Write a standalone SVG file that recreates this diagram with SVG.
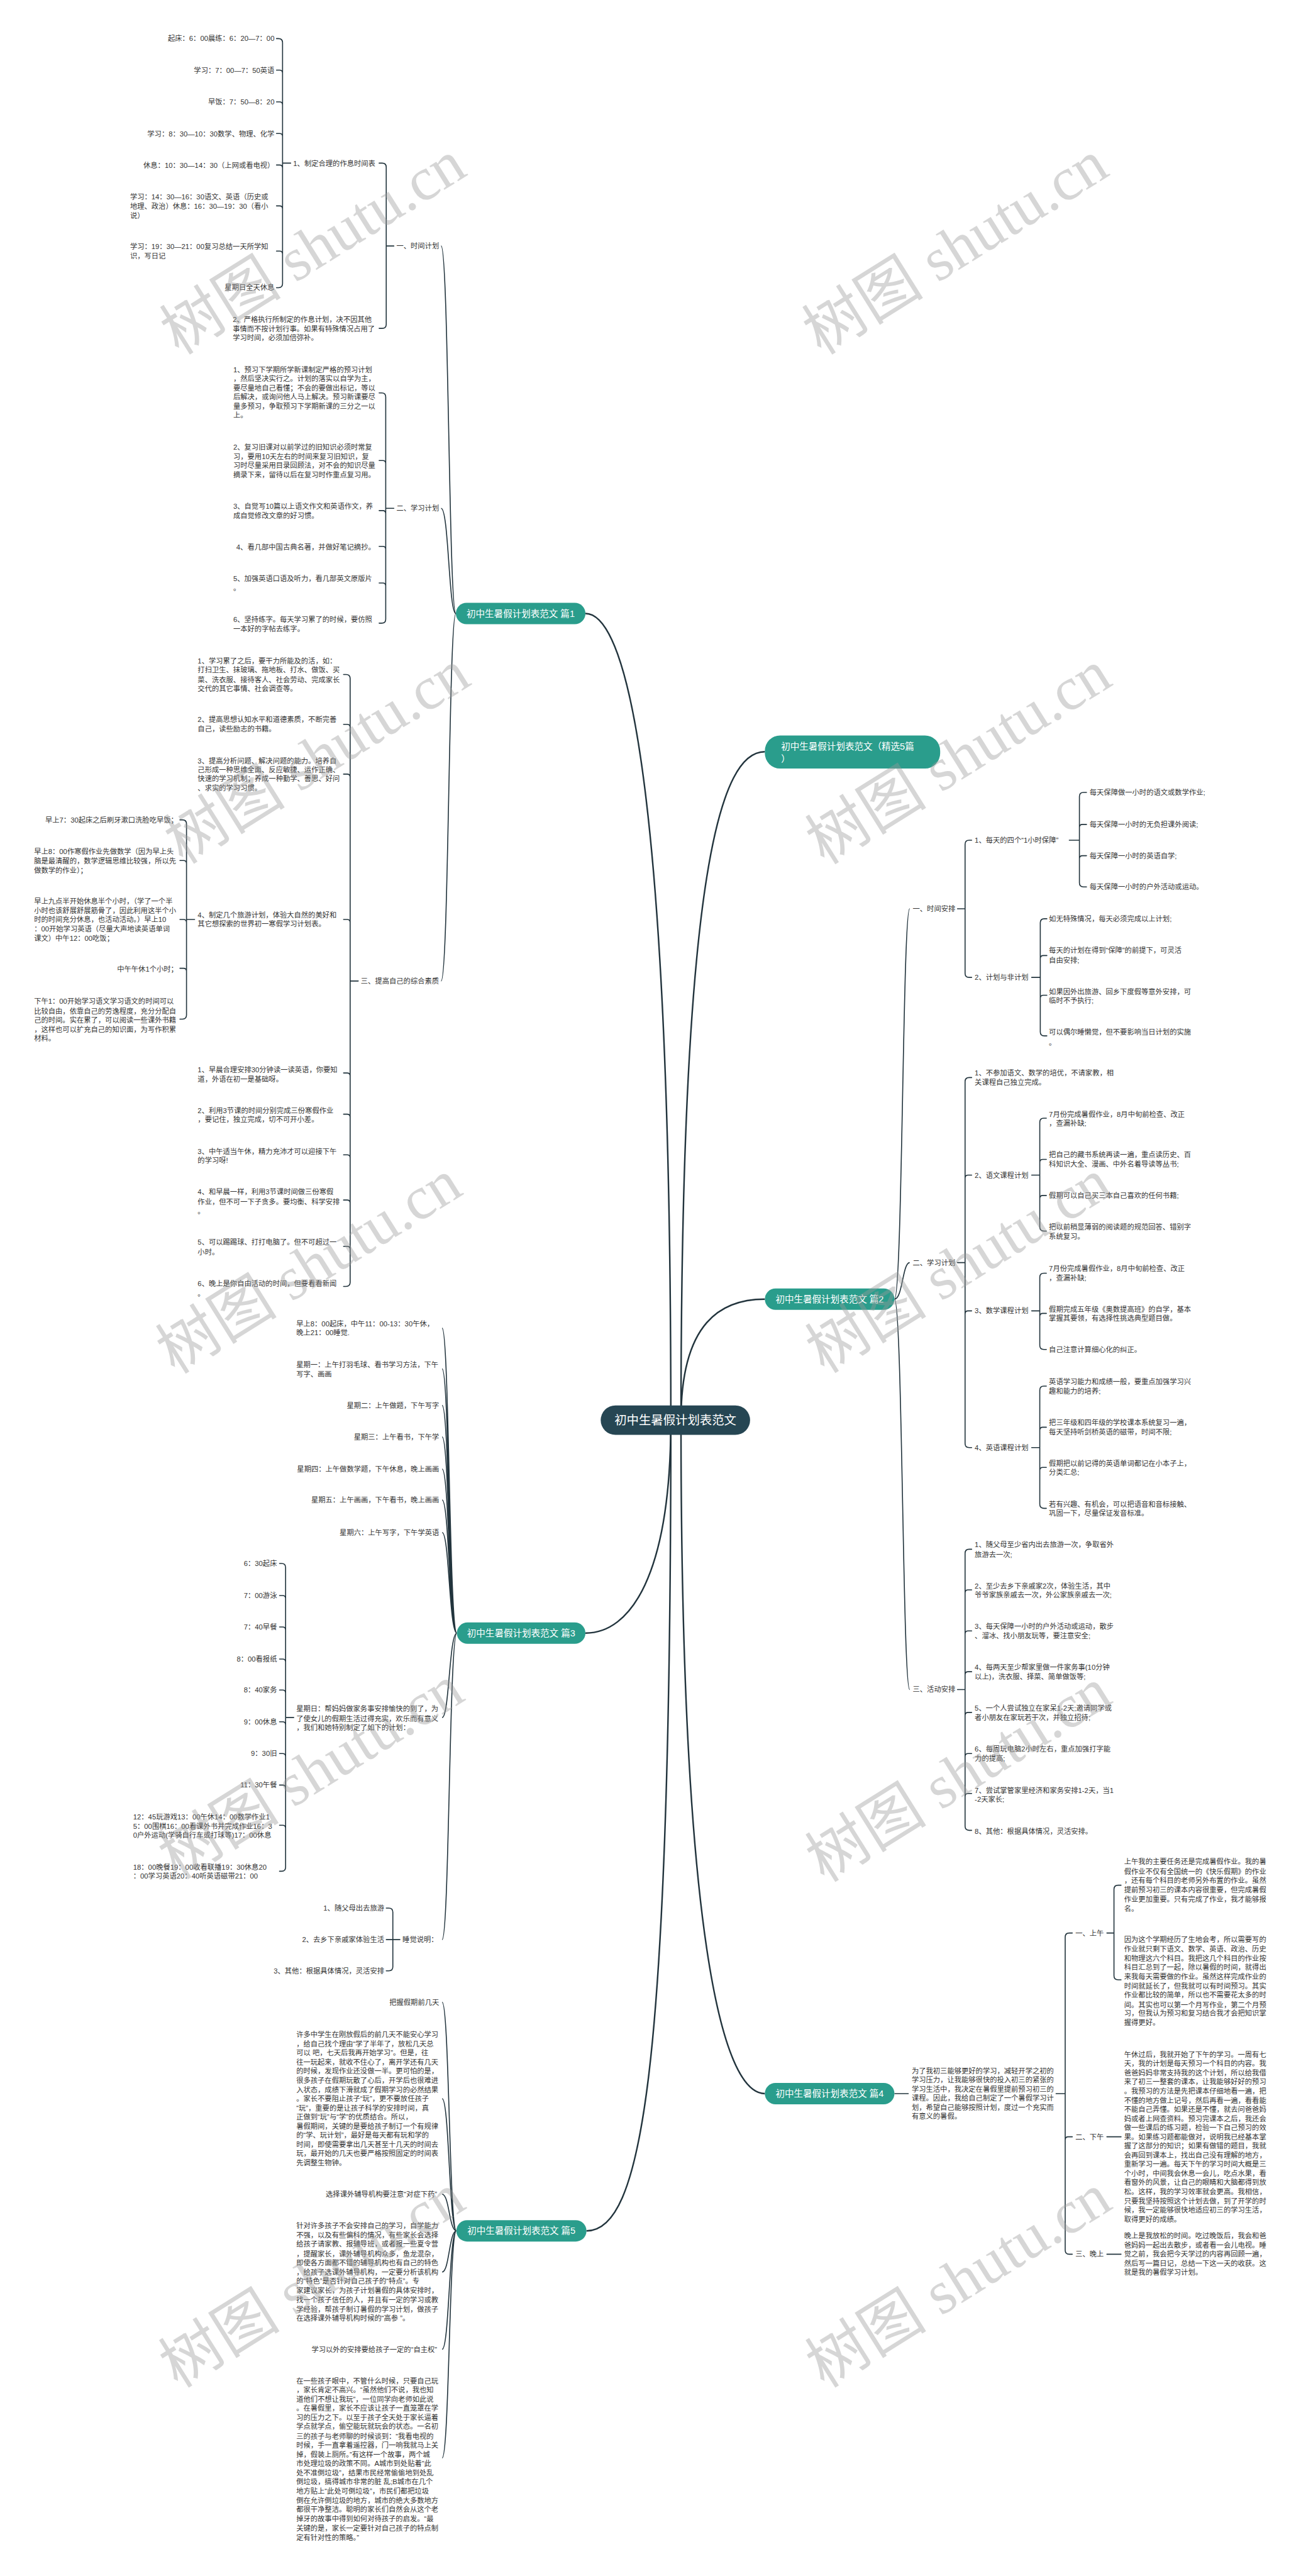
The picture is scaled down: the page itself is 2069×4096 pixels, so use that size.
<svg xmlns="http://www.w3.org/2000/svg" width="2069" height="4096" viewBox="0 0 2069 4096">
<style>
.t{font-family:"Liberation Sans","Noto Sans CJK SC",sans-serif;font-size:14px;fill:#333}
.e{text-anchor:end}
.n1{font-family:"Liberation Sans","Noto Sans CJK SC",sans-serif;font-size:18px;fill:#fff}
.n0{font-family:"Liberation Sans","Noto Sans CJK SC",sans-serif;font-size:24px;fill:#fff;text-anchor:middle}
.m{text-anchor:middle}
.b{fill:none;stroke:#22343d;stroke-width:2;stroke-linecap:round}
.c{fill:none;stroke:#22343d;stroke-width:2}
.c0{fill:none;stroke:#22343d;stroke-width:3}
.nd{fill:#2a9d8c}
.wm{font-family:"Liberation Serif","Noto Sans CJK SC",serif;font-size:120px;fill:#9a9a9a;opacity:0.4}
</style>
<rect width="2069" height="4096" fill="#fff"/>
<g transform="scale(0.8082)">
<g id="connectors">
<path class="c0" d="M1320 2794 C1320 1600 1240 1207 1152 1207"/>
<path class="c0" d="M1320 2794 C1320 3100 1240 3213 1152 3213"/>
<path class="c0" d="M1320 2794 C1320 4100 1260 4389 1154 4389"/>
<path class="c0" d="M1340 2794 C1340 1700 1420 1479 1505 1479"/>
<path class="c0" d="M1340 2794 C1340 2600 1420 2556 1505 2556"/>
<path class="c0" d="M1340 2794 C1340 3800 1420 4119 1505 4119"/>
<path class="c" d="M897 1207 C883 1207 883 484 868 484 M897 1207 C883 1207 883 1000 868 1000 M897 1207 C883 1207 883 1930 868 1930"/>
<path class="c" d="M899 3213 C884 3213 884 2613 870 2613 M899 3213 C884 3213 884 2693 870 2693 M899 3213 C884 3213 884 2765 870 2765 M899 3213 C884 3213 884 2827 870 2827 M899 3213 C884 3213 884 2890 870 2890 M899 3213 C884 3213 884 2951 870 2951 M899 3213 C884 3213 884 3015 870 3015 M899 3213 C884 3213 884 3379 870 3379 M899 3213 C884 3213 884 3816 870 3816"/>
<path class="c" d="M898 4389 C884 4389 884 3939 870 3939 M898 4389 C884 4389 884 4129 870 4129 M898 4389 C884 4389 884 4317 870 4317 M898 4389 C884 4389 884 4470 870 4470 M898 4389 C884 4389 884 4622 870 4622 M898 4389 C884 4389 884 4836 870 4836"/>
<path class="c" d="M1760 2556 C1776 2556 1776 1788 1790 1788 M1760 2556 C1776 2556 1776 2484 1790 2484 M1760 2556 C1776 2556 1776 3324 1790 3324 M1760 4119 L1788 4119"/>
<path class="b" d="M544 76 L548 76 Q556 76 556 84 L556 558 Q556 566 548 566 L544 566 M544 138 L550 138 Q556 138 556 144 M544 200.5 L550 200.5 Q556 200.5 556 206.5 M544 262.6 L550 262.6 Q556 262.6 556 268.6 M544 324.6 L550 324.6 Q556 324.6 556 330.6 M544 405 L550 405 Q556 405 556 411 M544 494 L550 494 Q556 494 556 500 M556 321 L572 321"/>
<path class="b" d="M746 321 L752 321 Q760 321 760 329 L760 638 Q760 646 752 646 L746 646 M760 484 L775 484"/>
<path class="b" d="M746 773 L751 773 Q759 773 759 781 L759 1218 Q759 1226 751 1226 L746 1226 M746 906 L753 906 Q759 906 759 912 M746 1004.5 L753 1004.5 Q759 1004.5 759 1010.5 M746 1075 L753 1075 Q759 1075 759 1081 M746 1147 L753 1147 Q759 1147 759 1153 M759 1000 L775 1000"/>
<path class="b" d="M676 1327 L681 1327 Q689 1327 689 1335 L689 2523 Q689 2531 681 2531 L676 2531 M676 1425 L683 1425 Q689 1425 689 1431 M676 1523 L683 1523 Q689 1523 689 1529 M676 1809 L683 1809 Q689 1809 689 1815 M676 2111 L683 2111 Q689 2111 689 2117 M676 2192 L683 2192 Q689 2192 689 2198 M676 2272 L683 2272 Q689 2272 689 2278 M676 2361 L683 2361 Q689 2361 689 2367 M676 2452 L683 2452 Q689 2452 689 2458 M689 1930 L705 1930"/>
<path class="b" d="M354 1613 L359 1613 Q367 1613 367 1621 L367 1997 Q367 2005 359 2005 L354 2005 M354 1693 L361 1693 Q367 1693 367 1699 M354 1809 L361 1809 Q367 1809 367 1815 M354 1905 L361 1905 Q367 1905 367 1911 M367 1809 L383 1809"/>
<path class="b" d="M550 3076 L554 3076 Q562 3076 562 3084 L562 3673.5 Q562 3681.5 554 3681.5 L550 3681.5 M550 3139 L556 3139 Q562 3139 562 3145 M550 3201 L556 3201 Q562 3201 562 3207 M550 3264 L556 3264 Q562 3264 562 3270 M550 3325 L556 3325 Q562 3325 562 3331 M550 3387.5 L556 3387.5 Q562 3387.5 562 3393.5 M550 3450 L556 3450 Q562 3450 562 3456 M550 3512 L556 3512 Q562 3512 562 3518 M550 3591 L556 3591 Q562 3591 562 3597 M562 3379 L578 3379"/>
<path class="b" d="M760 3754 L765 3754 Q773 3754 773 3762 L773 3869.5 Q773 3877.5 765 3877.5 L760 3877.5 M760 3816 L787 3816"/>
<path class="b" d="M1912 1653 L1907 1653 Q1899 1653 1899 1661 L1899 1915 Q1899 1923 1907 1923 L1912 1923 M1884 1788 L1899 1788"/>
<path class="b" d="M2138 1559 L2132 1559 Q2124 1559 2124 1567 L2124 1737 Q2124 1745 2132 1745 L2138 1745 M2138 1622 L2130 1622 Q2124 1622 2124 1628 M2138 1683.5 L2130 1683.5 Q2124 1683.5 2124 1689.5 M2104 1653 L2124 1653"/>
<path class="b" d="M2060 1807.6 L2055 1807.6 Q2047 1807.6 2047 1815.6 L2047 2030 Q2047 2038 2055 2038 L2060 2038 M2060 1880 L2053 1880 Q2047 1880 2047 1886 M2060 1958 L2053 1958 Q2047 1958 2047 1964 M2030 1923 L2047 1923"/>
<path class="b" d="M1912 2120 L1907 2120 Q1899 2120 1899 2128 L1899 2840 Q1899 2848 1907 2848 L1912 2848 M1912 2312 L1905 2312 Q1899 2312 1899 2318 M1912 2579 L1905 2579 Q1899 2579 1899 2585 M1884 2484 L1899 2484"/>
<path class="b" d="M2059 2200 L2054 2200 Q2046 2200 2046 2208 L2046 2414 Q2046 2422 2054 2422 L2059 2422 M2059 2281 L2052 2281 Q2046 2281 2046 2287 M2059 2352 L2052 2352 Q2046 2352 2046 2358 M2030 2312 L2046 2312"/>
<path class="b" d="M2059 2505 L2054 2505 Q2046 2505 2046 2513 L2046 2647 Q2046 2655 2054 2655 L2059 2655 M2059 2584 L2052 2584 Q2046 2584 2046 2590 M2030 2579 L2046 2579"/>
<path class="b" d="M2059 2727 L2054 2727 Q2046 2727 2046 2735 L2046 2959.5 Q2046 2967.5 2054 2967.5 L2059 2967.5 M2059 2808 L2052 2808 Q2046 2808 2046 2814 M2059 2887 L2052 2887 Q2046 2887 2046 2893 M2030 2848 L2046 2848"/>
<path class="b" d="M1912 3048 L1907 3048 Q1899 3048 1899 3056 L1899 3593 Q1899 3601 1907 3601 L1912 3601 M1912 3128 L1905 3128 Q1899 3128 1899 3134 M1912 3208.6 L1905 3208.6 Q1899 3208.6 1899 3214.6 M1912 3289 L1905 3289 Q1899 3289 1899 3295 M1912 3369 L1905 3369 Q1899 3369 1899 3375 M1912 3450 L1905 3450 Q1899 3450 1899 3456 M1912 3528.6 L1905 3528.6 Q1899 3528.6 1899 3534.6 M1884 3324 L1899 3324"/>
<path class="b" d="M2110 3803 L2104 3803 Q2096 3803 2096 3811 L2096 4427 Q2096 4435 2104 4435 L2110 4435 M2110 4204 L2102 4204 Q2096 4204 2096 4210 M2078 4119 L2096 4119"/>
<path class="b" d="M2206 3709 L2200 3709 Q2192 3709 2192 3717 L2192 3887 Q2192 3895 2200 3895 L2206 3895 M2178 3803 L2192 3803 M2178 4204 L2206 4204 M2178 4435 L2206 4435"/>
</g>

<g id="root"><rect x="1182" y="2765" width="294" height="58" rx="29" fill="#264653"/><text class="n0" x="1329" y="2803">初中生暑假计划表范文</text></g>

<g id="p1"><rect class="nd" x="897" y="1186" width="255" height="42" rx="21"/><text class="n1 m" x="1024.5" y="1213.5">初中生暑假计划表范文 篇1</text></g>
<g id="p1-a" class="t">
<text class="t e" x="540" y="81">起床：6：00晨练：6：20—7：00</text>
<text class="t e" x="540" y="143">学习：7：00—7：50英语</text>
<text class="t e" x="540" y="205.5">早饭：7：50—8：20</text>
<text class="t e" x="540" y="268">学习：8：30—10：30数学、物理、化学</text>
<text class="t e" x="540" y="330">休息：10：30—14：30（上网或看电视）</text>
<text class="t"><tspan x="256" y="392">学习：14：30—16：30语文、英语（历史或</tspan><tspan x="256" y="411">地理、政治）休息：16：30—19：30（看小</tspan><tspan x="256" y="429">说）</tspan></text>
<text class="t"><tspan x="256" y="490">学习：19：30—21：00复习总结一天所学知</tspan><tspan x="256" y="508">识，写日记</tspan></text>
<text class="t e" x="540" y="571">星期日全天休息</text>
</g>
<g id="p1-1"><text class="t" x="577" y="327">1、制定合理的作息时间表</text>
<text class="t"><tspan x="458" y="633">2、严格执行所制定的作息计划，决不因其他</tspan><tspan x="458" y="652">事情而不按计划行事。如果有特殊情况占用了</tspan><tspan x="458" y="670">学习时间，必须加倍弥补。</tspan></text>
<text class="t" x="780" y="489">一、时间计划</text></g>
<g id="p1-2">
<text class="t"><tspan x="459" y="732">1、预习下学期所学新课制定严格的预习计划</tspan><tspan x="459" y="750">，然后坚决实行之。计划的落实以自学为主，</tspan><tspan x="459" y="768">要尽量地自己看懂；不会的要做出标记，等以</tspan><tspan x="459" y="786">后解决，或询问他人马上解决。预习新课要尽</tspan><tspan x="459" y="804">量多预习，争取预习下学期新课的三分之一以</tspan><tspan x="459" y="822">上。</tspan></text>
<text class="t"><tspan x="459" y="885">2、复习旧课对以前学过的旧知识必须时常复</tspan><tspan x="459" y="903">习，要用10天左右的时间来复习旧知识，复</tspan><tspan x="459" y="921">习时尽量采用目录回顾法，对不会的知识尽量</tspan><tspan x="459" y="939">摘录下来，留待以后在复习时作重点复习用。</tspan></text>
<text class="t"><tspan x="459" y="1001">3、自觉写10篇以上语文作文和英语作文，养</tspan><tspan x="459" y="1019">成自觉修改文章的好习惯。</tspan></text>
<text class="t" x="465" y="1081">4、看几部中国古典名著，并做好笔记摘抄。</text>
<text class="t"><tspan x="459" y="1143">5、加强英语口语及听力，看几部英文原版片</tspan><tspan x="459" y="1162">。</tspan></text>
<text class="t"><tspan x="459" y="1224">6、坚持练字。每天学习累了的时候，要仿照</tspan><tspan x="459" y="1242">一本好的字帖去练字。</tspan></text>
<text class="t" x="780" y="1005">二、学习计划</text></g>
<g id="p1-3">
<text class="t"><tspan x="389" y="1305">1、学习累了之后，要干力所能及的活，如：</tspan><tspan x="389" y="1323">打扫卫生、抹玻璃、拖地板、打水、做饭、买</tspan><tspan x="389" y="1342">菜、洗衣服、接待客人、社会劳动、完成家长</tspan><tspan x="389" y="1360">交代的其它事情、社会调查等。</tspan></text>
<text class="t"><tspan x="389" y="1421">2、提高思想认知水平和道德素质，不断完善</tspan><tspan x="389" y="1439">自己，读些励志的书籍。</tspan></text>
<text class="t"><tspan x="389" y="1502">3、提高分析问题、解决问题的能力。培养自</tspan><tspan x="389" y="1519">己形成一种思维全面、反应敏捷、运作正确、</tspan><tspan x="389" y="1537">快速的学习机制；养成一种勤学、善思、好问</tspan><tspan x="389" y="1555">、求实的学习习惯。</tspan></text>
<text class="t"><tspan x="389" y="1805">4、制定几个旅游计划，体验大自然的美好和</tspan><tspan x="389" y="1823">其它想探索的世界初一寒假学习计划表。</tspan></text>
<text class="t"><tspan x="389" y="2110">1、早晨合理安排30分钟读一读英语，你要知</tspan><tspan x="389" y="2128">道，外语在初一是基础呀。</tspan></text>
<text class="t"><tspan x="389" y="2190">2、利用3节课的时间分别完成三份寒假作业</tspan><tspan x="389" y="2207">，要记住，独立完成，切不可开小差。</tspan></text>
<text class="t"><tspan x="389" y="2270">3、中午适当午休，精力充沛才可以迎接下午</tspan><tspan x="389" y="2288">的学习呀!</tspan></text>
<text class="t"><tspan x="389" y="2350">4、和早晨一样，利用3节课时间做三份寒假</tspan><tspan x="389" y="2369">作业，但不可一下子贪多。要均衡、科学安排</tspan><tspan x="389" y="2388">。</tspan></text>
<text class="t"><tspan x="389" y="2449">5、可以踢踢球、打打电脑了。但不可超过一</tspan><tspan x="389" y="2468">小时。</tspan></text>
<text class="t"><tspan x="389" y="2530">6、晚上是你自由活动的时间，但要看看新闻</tspan><tspan x="389" y="2550">。</tspan></text>
<text class="t" x="710" y="1935">三、提高自己的综合素质</text></g>
<g id="p1-3-4">
<text class="t e" x="350" y="1618">早上7：30起床之后刷牙漱口洗脸吃早饭；</text>
<text class="t"><tspan x="67" y="1680">早上8：00作寒假作业先做数学（因为早上头</tspan><tspan x="67" y="1699">脑是最清醒的，数学逻辑思维比较强，所以先</tspan><tspan x="67" y="1717">做数学的作业）；</tspan></text>
<text class="t"><tspan x="67" y="1778">早上九点半开始休息半个小时，（学了一个半</tspan><tspan x="67" y="1796">小时也该舒展舒展筋骨了，因此利用这半个小</tspan><tspan x="67" y="1814">时的时间充分休息，也活动活动。）早上10</tspan><tspan x="67" y="1833">：00开始学习英语（尽量大声地读英语单词</tspan><tspan x="67" y="1851">课文）中午12：00吃饭；</tspan></text>
<text class="t e" x="350" y="1912">中午午休1个小时；</text>
<text class="t"><tspan x="67" y="1975">下午1：00开始学习语文学习语文的时间可以</tspan><tspan x="67" y="1994">比较自由，依靠自己的劳逸程度，充分分配自</tspan><tspan x="67" y="2012">己的时间。实在累了，可以阅读一些课外书籍</tspan><tspan x="67" y="2030">，这样也可以扩充自己的知识面，为写作积累</tspan><tspan x="67" y="2048">材料。</tspan></text>
</g>

<g id="p3"><rect class="nd" x="899" y="3192" width="253" height="42" rx="21"/><text class="n1 m" x="1025.5" y="3219.5">初中生暑假计划表范文 篇3</text></g>
<g id="p3-c">
<text class="t"><tspan x="583" y="2610">早上8：00起床，中午11：00-13：30午休，</tspan><tspan x="583" y="2627">晚上21：00睡觉.</tspan></text>
<text class="t"><tspan x="583" y="2690">星期一：上午打羽毛球、看书学习方法，下午</tspan><tspan x="583" y="2708">写字、画画</tspan></text>
<text class="t e" x="864" y="2770">星期二：上午做题，下午写字</text>
<text class="t e" x="864" y="2832">星期三：上午看书，下午学</text>
<text class="t e" x="864" y="2895">星期四：上午做数学题，下午休息，晚上画画</text>
<text class="t e" x="864" y="2956">星期五：上午画画，下午看书，晚上画画</text>
<text class="t e" x="864" y="3020">星期六：上午写字，下午学英语</text>
<text class="t"><tspan x="583" y="3367">星期日：帮妈妈做家务事安排愉快的到了，为</tspan><tspan x="583" y="3386">了使女儿的假期生活过得充实，欢乐而有意义</tspan><tspan x="583" y="3404">，我们和她特别制定了如下的计划：</tspan></text>
<text class="t" x="792" y="3821">睡觉说明：</text>
</g>
<g id="p3-sun">
<text class="t e" x="545" y="3081">6：30起床</text>
<text class="t e" x="545" y="3144">7：00游泳</text>
<text class="t e" x="545" y="3206">7：40早餐</text>
<text class="t e" x="545" y="3269">8：00看报纸</text>
<text class="t e" x="545" y="3330">8：40家务</text>
<text class="t e" x="545" y="3392.5">9：00休息</text>
<text class="t e" x="545" y="3455">9：30旧</text>
<text class="t e" x="545" y="3517">11：30午餐</text>
<text class="t"><tspan x="262" y="3579">12：45玩游戏13：00午休14：00数学作业1</tspan><tspan x="262" y="3598">5：00围棋16：00看课外书并完成作业16：3</tspan><tspan x="262" y="3616">0户外运动(学骑自行车或打球等)17：00休息</tspan></text>
<text class="t"><tspan x="262" y="3678">18：00晚餐19：00收看联播19：30休息20</tspan><tspan x="262" y="3696">：00学习英语20：40听英语磁带21：00</tspan></text>
</g>
<g id="p3-sleep">
<text class="t e" x="756" y="3759">1、随父母出去旅游</text>
<text class="t e" x="756" y="3821">2、去乡下亲戚家体验生活</text>
<text class="t e" x="756" y="3882.5">3、其他：根据具体情况，灵活安排</text>
</g>

<g id="p5"><rect class="nd" x="898" y="4368" width="256" height="42" rx="21"/><text class="n1 m" x="1026" y="4395.5">初中生暑假计划表范文 篇5</text></g>
<g id="p5-c">
<text class="t e" x="864" y="3944">把握假期前几天</text>
<text class="t"><tspan x="583" y="4008">许多中学生在刚放假后的前几天不能安心学习</tspan><tspan x="583" y="4026">，给自己找个理由“学了半年了，放松几天总</tspan><tspan x="583" y="4044">可以 吧，七天后我再开始学习”。但是，往</tspan><tspan x="583" y="4062">往一玩起来，就收不住心了，离开学还有几天</tspan><tspan x="583" y="4080">的时候，发现作业还没做一半。更可怕的是，</tspan><tspan x="583" y="4098">很多孩子在假期玩散了心后，开学后也很难进</tspan><tspan x="583" y="4116">入状态，成绩下滑就成了假期学习的必然结果</tspan><tspan x="583" y="4134">。家长不要阻止孩子“玩”，更不要放任孩子</tspan><tspan x="583" y="4152">“玩”，重要的是让孩子科学的安排时间，真</tspan><tspan x="583" y="4170">正做到“玩”与“学”的优质结合。所以，</tspan><tspan x="583" y="4188">暑假期间，关键的是要给孩子制订一个有规律</tspan><tspan x="583" y="4206">的“学、玩计划”，最好是每天都有玩和学的</tspan><tspan x="583" y="4224">时间，即使需要拿出几天甚至十几天的时间去</tspan><tspan x="583" y="4242">玩，最开始的几天也要严格按照固定的时间表</tspan><tspan x="583" y="4260">先调整生物钟。</tspan></text>
<text class="t e" x="860" y="4322">选择课外辅导机构要注意“对症下药”</text>
<text class="t"><tspan x="583" y="4384">针对许多孩子不会安排自己的学习，自学能力</tspan><tspan x="583" y="4402">不强，以及有些偏科的情况，有些家长会选择</tspan><tspan x="583" y="4420">给孩子请家教、报辅导班，或者报一些夏令营</tspan><tspan x="583" y="4439">，提醒家长，课外辅导机构众多，鱼龙混杂，</tspan><tspan x="583" y="4457">即使各方面都不错的辅导机构也有自己的特色</tspan><tspan x="583" y="4475">，给孩子选课外辅导机构，一定要分析该机构</tspan><tspan x="583" y="4493">的“特色”是否针对自己孩子的“特点”。专</tspan><tspan x="583" y="4511">家建议家长，为孩子计划暑假的具体安排时，</tspan><tspan x="583" y="4530">找一个孩子信任的人，并且有一定的学习或教</tspan><tspan x="583" y="4548">学经验，帮孩子制订暑假的学习计划，做孩子</tspan><tspan x="583" y="4566">在选择课外辅导机构时候的“高参 ”。</tspan></text>
<text class="t e" x="860" y="4627.5">学习以外的安排要给孩子一定的“自主权”</text>
<text class="t"><tspan x="583" y="4689">在一些孩子眼中，不管什么时候，只要自己玩</tspan><tspan x="583" y="4707">，家长肯定不高兴。“虽然他们不说，我也知</tspan><tspan x="583" y="4725">道他们不想让我玩”，一位同学向老师如此说</tspan><tspan x="583" y="4743">。在暑假里，家长不应该让孩子一直笼罩在学</tspan><tspan x="583" y="4761">习的压力之下。以至于孩子全天处于家长逼着</tspan><tspan x="583" y="4779">学点就学点，偷空能玩就玩会的状态。一名初</tspan><tspan x="583" y="4798">三的孩子与老师聊的时候谈到：“我看电视的</tspan><tspan x="583" y="4816">时候，手一直拿着遥控器，门一响我就马上关</tspan><tspan x="583" y="4834">掉，假装上厕所。”有这样一个故事，两个城</tspan><tspan x="583" y="4852">市处理垃圾的政策不同。A城市到处贴着“此</tspan><tspan x="583" y="4870">处不准倒垃圾”，结果市民经常偷偷地到处乱</tspan><tspan x="583" y="4888">倒垃圾，搞得城市非常的脏 乱;B城市在几个</tspan><tspan x="583" y="4906">地方贴上“此处可倒垃圾”，市民们都把垃圾</tspan><tspan x="583" y="4924">倒在允许倒垃圾的地方，城市的绝大多数地方</tspan><tspan x="583" y="4942">都很干净整洁。聪明的家长们自然会从这个老</tspan><tspan x="583" y="4960">掉牙的故事中得到如何对待孩子的启发。“最</tspan><tspan x="583" y="4979">关键的是，家长一定要针对自己孩子的特点制</tspan><tspan x="583" y="4997">定有针对性的策略。”</tspan></text>
</g>

<g id="title"><rect class="nd" x="1505" y="1447" width="345" height="65" rx="30"/><text class="n1"><tspan x="1537" y="1474.5">初中生暑假计划表范文（精选5篇</tspan><tspan x="1537" y="1499.5">）</tspan></text></g>

<g id="p2"><rect class="nd" x="1505" y="2535" width="255" height="42" rx="21"/><text class="n1 m" x="1632.5" y="2562.5">初中生暑假计划表范文 篇2</text></g>
<g id="p2-1">
<text class="t" x="1796" y="1793">一、时间安排</text>
<text class="t" x="1918" y="1658">1、每天的四个“1小时保障”</text>
<text class="t" x="1918" y="1928">2、计划与非计划</text>
<text class="t" x="2144" y="1564">每天保障做一小时的语文或数学作业;</text>
<text class="t" x="2144" y="1627">每天保障一小时的无负担课外阅读;</text>
<text class="t" x="2144" y="1688.5">每天保障一小时的英语自学;</text>
<text class="t" x="2144" y="1750">每天保障一小时的户外活动或运动。</text>
<text class="t" x="2064" y="1812.6">如无特殊情况，每天必须完成以上计划;</text>
<text class="t"><tspan x="2064" y="1875">每天的计划在得到“保障”的前提下，可灵活</tspan><tspan x="2064" y="1894">自由安排;</tspan></text>
<text class="t"><tspan x="2064" y="1956">如果因外出旅游、回乡下度假等意外安排，可</tspan><tspan x="2064" y="1974">临时不予执行;</tspan></text>
<text class="t"><tspan x="2064" y="2036">可以偶尔睡懒觉，但不要影响当日计划的实施</tspan><tspan x="2064" y="2056">。</tspan></text>
</g>
<g id="p2-2">
<text class="t" x="1796" y="2489">二、学习计划</text>
<text class="t"><tspan x="1918" y="2116">1、不参加语文、数学的培优，不请家教，相</tspan><tspan x="1918" y="2135">关课程自己独立完成。</tspan></text>
<text class="t" x="1918" y="2317">2、语文课程计划</text>
<text class="t" x="1918" y="2584">3、数学课程计划</text>
<text class="t" x="1918" y="2853">4、英语课程计划</text>
<text class="t"><tspan x="2064" y="2197">7月份完成暑假作业，8月中旬前检查、改正</tspan><tspan x="2064" y="2215">，查漏补缺;</tspan></text>
<text class="t"><tspan x="2064" y="2277">把自己的藏书系统再读一遍，重点读历史、百</tspan><tspan x="2064" y="2295">科知识大全、漫画、中外名着导读等丛书;</tspan></text>
<text class="t" x="2064" y="2357">假期可以自己买三本自己喜欢的任何书籍;</text>
<text class="t"><tspan x="2064" y="2419">把以前稍显薄弱的阅读题的规范回答、错别字</tspan><tspan x="2064" y="2438">系统复习。</tspan></text>
<text class="t"><tspan x="2064" y="2501">7月份完成暑假作业，8月中旬前检查、改正</tspan><tspan x="2064" y="2519">，查漏补缺;</tspan></text>
<text class="t"><tspan x="2064" y="2581">假期完成五年级《奥数提高班》的自学，基本</tspan><tspan x="2064" y="2599">掌握其要领，有选择性挑选典型题目做。</tspan></text>
<text class="t" x="2064" y="2660">自己注意计算细心化的纠正。</text>
<text class="t"><tspan x="2064" y="2723">英语学习能力和成绩一般，要重点加强学习兴</tspan><tspan x="2064" y="2742">趣和能力的培养;</tspan></text>
<text class="t"><tspan x="2064" y="2804">把三年级和四年级的学校课本系统复习一遍，</tspan><tspan x="2064" y="2822">每天坚持听剑桥英语的磁带，时间不限;</tspan></text>
<text class="t"><tspan x="2064" y="2884">假期把以前记得的英语单词都记在小本子上，</tspan><tspan x="2064" y="2902">分类汇总;</tspan></text>
<text class="t"><tspan x="2064" y="2964.5">若有兴趣、有机会，可以把语音和音标接触、</tspan><tspan x="2064" y="2982">巩固一下，尽量保证发音标准。</tspan></text>
</g>
<g id="p2-3">
<text class="t" x="1796" y="3329">三、活动安排</text>
<text class="t"><tspan x="1918" y="3044">1、随父母至少省内出去旅游一次，争取省外</tspan><tspan x="1918" y="3063">旅游去一次;</tspan></text>
<text class="t"><tspan x="1918" y="3125">2、至少去乡下亲戚家2次，体验生活，其中</tspan><tspan x="1918" y="3143">爷爷家族亲戚去一次，外公家族亲戚去一次;</tspan></text>
<text class="t"><tspan x="1918" y="3205">3、每天保障一小时的户外活动或运动，散步</tspan><tspan x="1918" y="3223">、溜冰、找小朋友玩等，要注意安全;</tspan></text>
<text class="t"><tspan x="1918" y="3285">4、每两天至少帮家里做一件家务事(10分钟</tspan><tspan x="1918" y="3304">以上)，洗衣服、择菜、简单做饭等;</tspan></text>
<text class="t"><tspan x="1918" y="3365">5、一个人尝试独立在家呆1-2天;邀请同学或</tspan><tspan x="1918" y="3384">者小朋友在家玩若干次，并独立招待;</tspan></text>
<text class="t"><tspan x="1918" y="3446">6、每周玩电脑2小时左右，重点加强打字能</tspan><tspan x="1918" y="3464">力的提高;</tspan></text>
<text class="t"><tspan x="1918" y="3527">7、尝试掌管家里经济和家务安排1-2天，当1</tspan><tspan x="1918" y="3545">-2天家长;</tspan></text>
<text class="t" x="1918" y="3608">8、其他：根据具体情况，灵活安排。</text>
</g>

<g id="p4"><rect class="nd" x="1505" y="4098" width="255" height="42" rx="21"/><text class="n1 m" x="1632.5" y="4125.5">初中生暑假计划表范文 篇4</text></g>
<g id="p4-c">
<text class="t"><tspan x="1794" y="4079">为了我初三能够更好的学习，减轻开学之初的</tspan><tspan x="1794" y="4097">学习压力，让我能够很快的投入初三的紧张的</tspan><tspan x="1794" y="4115">学习生活中，我决定在暑假里提前预习初三的</tspan><tspan x="1794" y="4133">课程。因此，我给自己制定了一个暑假学习计</tspan><tspan x="1794" y="4151">划，希望自己能够按照计划，度过一个充实而</tspan><tspan x="1794" y="4169">有意义的暑假。</tspan></text>
<text class="t" x="2116" y="3808">一、上午</text>
<text class="t" x="2116" y="4209">二、下午</text>
<text class="t" x="2116" y="4440">三、晚上</text>
<text class="t"><tspan x="2212" y="3668">上午我的主要任务还是完成暑假作业。我的暑</tspan><tspan x="2212" y="3687">假作业不仅有全国统一的《快乐假期》的作业</tspan><tspan x="2212" y="3705">，还有每个科目的老师另外布置的作业。虽然</tspan><tspan x="2212" y="3723">提前预习初三的课本内容很重要，但完成暑假</tspan><tspan x="2212" y="3742">作业更加重要。只有完成了作业，我才能够报</tspan><tspan x="2212" y="3760">名。</tspan></text>
<text class="t"><tspan x="2212" y="3821">因为这个学期经历了生地会考，所以需要写的</tspan><tspan x="2212" y="3840">作业就只剩下语文、数学、英语、政治、历史</tspan><tspan x="2212" y="3858">和物理这六个科目。我把这几个科目的作业按</tspan><tspan x="2212" y="3875">科目汇总到了一起，除以暑假的时间，就得出</tspan><tspan x="2212" y="3894">来我每天需要做的作业。虽然这样完成作业的</tspan><tspan x="2212" y="3912">时间就延长了，但我就可以有时间预习。其实</tspan><tspan x="2212" y="3930">作业都比较的简单，所以也不需要花太多的时</tspan><tspan x="2212" y="3949">间。其实也可以第一个月写作业，第二个月预</tspan><tspan x="2212" y="3966">习，但我认为预习和复习结合我才会把知识掌</tspan><tspan x="2212" y="3984">握得更好。</tspan></text>
<text class="t"><tspan x="2212" y="4047">午休过后，我就开始了下午的学习。一周有七</tspan><tspan x="2212" y="4065">天，我的计划是每天预习一个科目的内容。我</tspan><tspan x="2212" y="4083">爸爸妈妈非常支持我的这个计划，所以给我借</tspan><tspan x="2212" y="4101">来了初三一整套的课本，让我能够好好的预习</tspan><tspan x="2212" y="4119">。我预习的方法是先把课本仔细地看一遍，把</tspan><tspan x="2212" y="4137">不懂的地方做上记号，然后再看一遍，看看能</tspan><tspan x="2212" y="4155">不能自己弄懂。如果还是不懂，就去问爸爸妈</tspan><tspan x="2212" y="4173">妈或者上网查资料。预习完课本之后，我还会</tspan><tspan x="2212" y="4191">做一些课后的练习题，检验一下自己预习的效</tspan><tspan x="2212" y="4209">果。如果练习题都能做对，说明我已经基本掌</tspan><tspan x="2212" y="4227">握了这部分的知识；如果有做错的题目，我就</tspan><tspan x="2212" y="4245">会再回到课本上，找出自己没有理解的地方，</tspan><tspan x="2212" y="4263">重新学习一遍。每天下午的学习时间大概是三</tspan><tspan x="2212" y="4281">个小时，中间我会休息一会儿，吃点水果，看</tspan><tspan x="2212" y="4299">看窗外的风景，让自己的眼睛和大脑都得到放</tspan><tspan x="2212" y="4317">松。这样，我的学习效率就会更高。我相信，</tspan><tspan x="2212" y="4335">只要我坚持按照这个计划去做，到了开学的时</tspan><tspan x="2212" y="4353">候，我一定能够很快地适应初三的学习生活，</tspan><tspan x="2212" y="4371">取得更好的成绩。</tspan></text>
<text class="t"><tspan x="2212" y="4404">晚上是我放松的时间。吃过晚饭后，我会和爸</tspan><tspan x="2212" y="4422">爸妈妈一起出去散步，或者看一会儿电视。睡</tspan><tspan x="2212" y="4440">觉之前，我会把今天学过的内容再回顾一遍，</tspan><tspan x="2212" y="4458">然后写一篇日记，总结一下这一天的收获。这</tspan><tspan x="2212" y="4476">就是我的暑假学习计划。</tspan></text>
</g>

<g id="watermarks">
<text class="wm" transform="translate(352,700) rotate(-32)">树图 shutu.cn</text>
<text class="wm" transform="translate(360,1702) rotate(-32)">树图 shutu.cn</text>
<text class="wm" transform="translate(344,2705) rotate(-32)">树图 shutu.cn</text>
<text class="wm" transform="translate(348,3700) rotate(-32)">树图 shutu.cn</text>
<text class="wm" transform="translate(350,4700) rotate(-32)">树图 shutu.cn</text>
<text class="wm" transform="translate(1616,700) rotate(-32)">树图 shutu.cn</text>
<text class="wm" transform="translate(1622,1703) rotate(-32)">树图 shutu.cn</text>
<text class="wm" transform="translate(1622,2704) rotate(-32)">树图 shutu.cn</text>
<text class="wm" transform="translate(1622,3705) rotate(-32)">树图 shutu.cn</text>
<text class="wm" transform="translate(1622,4700) rotate(-32)">树图 shutu.cn</text>
</g>
</g>
</svg>
